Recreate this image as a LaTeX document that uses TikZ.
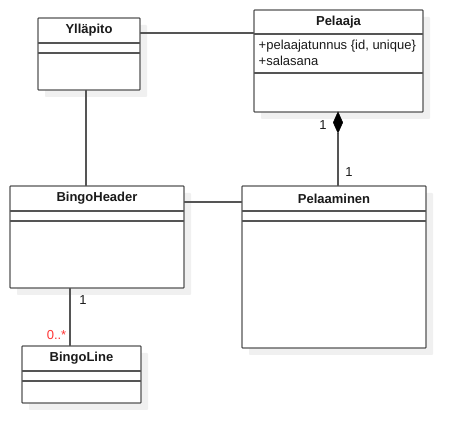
\documentclass[tikz,border=0pt]{standalone}
\usepackage{fontspec}
\setmainfont{Liberation Sans}
\usetikzlibrary{shadows,arrows.meta,calc}
\definecolor{lc}{HTML}{555555}
\definecolor{tc}{HTML}{1A1A1A}
\definecolor{shc}{HTML}{F0F0F0}
\definecolor{rc}{HTML}{FF3333}
\tikzset{
  cls/.style={draw=lc, line width=1.2pt, fill=white, inner sep=0pt, outer sep=0pt, rounded corners=0.8pt,
    general shadow={fill=shc, shadow xshift=7pt, shadow yshift=-7pt}},
  ttl/.style={font=\fontsize{13}{15}\selectfont\bfseries, text=tc, inner sep=0pt},
  attr/.style={font=\fontsize{13}{15}\selectfont, text=tc, inner sep=0pt, anchor=west},
  sep/.style={draw=lc, line width=1.2pt},
  conn/.style={draw=lc, line width=1.2pt},
  dia/.style={fill=black, draw=black, line width=0.5pt, line join=miter},
  mult/.style={font=\fontsize{13}{15}\selectfont, text=tc, inner sep=0pt},
}
\begin{document}
\begin{tikzpicture}[x=1pt,y=-1pt]
\useasboundingbox (0,0) rectangle (466,443);
% classes
\node[cls, minimum width=102pt, minimum height=72pt] (yl) at (89,54) {};
\node[cls, minimum width=169pt, minimum height=102pt] (pel) at (338.5,61) {};
\node[cls, minimum width=174pt, minimum height=102pt] (bh) at (97,237) {};
\node[cls, minimum width=184pt, minimum height=162pt] (pela) at (334,267) {};
\node[cls, minimum width=119pt, minimum height=57pt] (bl) at (81.5,374.5) {};
% titles
\node[ttl] (ylt) at (89,30.5) {Ylläpito};
\node[ttl] (pelt) at (338.5,22) {Pelaaja};
\node[ttl] (bht) at (97,198.5) {BingoHeader};
\node[ttl] (pelat) at (334,198.5) {Pelaaminen};
\node[ttl] (blt) at (81.5,358.5) {BingoLine};
% separators
\draw[sep] (yl.west |- 0,43) -- (yl.east |- 0,43);
\draw[sep] (yl.west |- 0,53) -- (yl.east |- 0,53);
\draw[sep] (pel.west |- 0,34) -- (pel.east |- 0,34);
\draw[sep] (pel.west |- 0,73) -- (pel.east |- 0,73);
\draw[sep] (bh.west |- 0,211) -- (bh.east |- 0,211);
\draw[sep] (bh.west |- 0,221) -- (bh.east |- 0,221);
\draw[sep] (pela.west |- 0,211) -- (pela.east |- 0,211);
\draw[sep] (pela.west |- 0,221) -- (pela.east |- 0,221);
\draw[sep] (bl.west |- 0,371) -- (bl.east |- 0,371);
\draw[sep] (bl.west |- 0,381) -- (bl.east |- 0,381);
% attributes
\node[attr] (a1) at (258.5,46) {+pelaajatunnus \{id, unique\}};
\node[attr] (a2) at (258.5,61) {+salasana};
% connectors
\coordinate (c1) at (yl.east |- 0,33);
\draw[conn] (c1) -- (c1 -| pel.west);
\coordinate (c2) at (86,0);
\draw[conn] (c2 |- yl.south) -- (c2 |- bh.north);
\coordinate (c3) at (338,0);
\coordinate (d0) at (c3 |- pel.south);
\coordinate (d1) at ($(d0)+(0,21)$);
\draw[conn] (d1) -- (d1 |- pela.north);
\fill[dia] (d0) -- ++(4.7,10.5) -- (d1) -- ++(-4.7,-10.5) -- cycle;
\coordinate (c4) at (bh.east |- 0,202);
\draw[conn] (c4) -- (c4 -| pela.west);
\coordinate (c5) at (70,0);
\draw[conn] (c5 |- bh.south) -- (c5 |- bl.north);
% multiplicities
\node[mult] (m1) at (323,125) {1};
\node[mult] (m2) at (349,172) {1};
\node[mult] (m3) at (83,300) {1};
\node[mult, text=rc, anchor=east] (m4) at (66.5,335) {0..*};
\end{tikzpicture}
\end{document}
